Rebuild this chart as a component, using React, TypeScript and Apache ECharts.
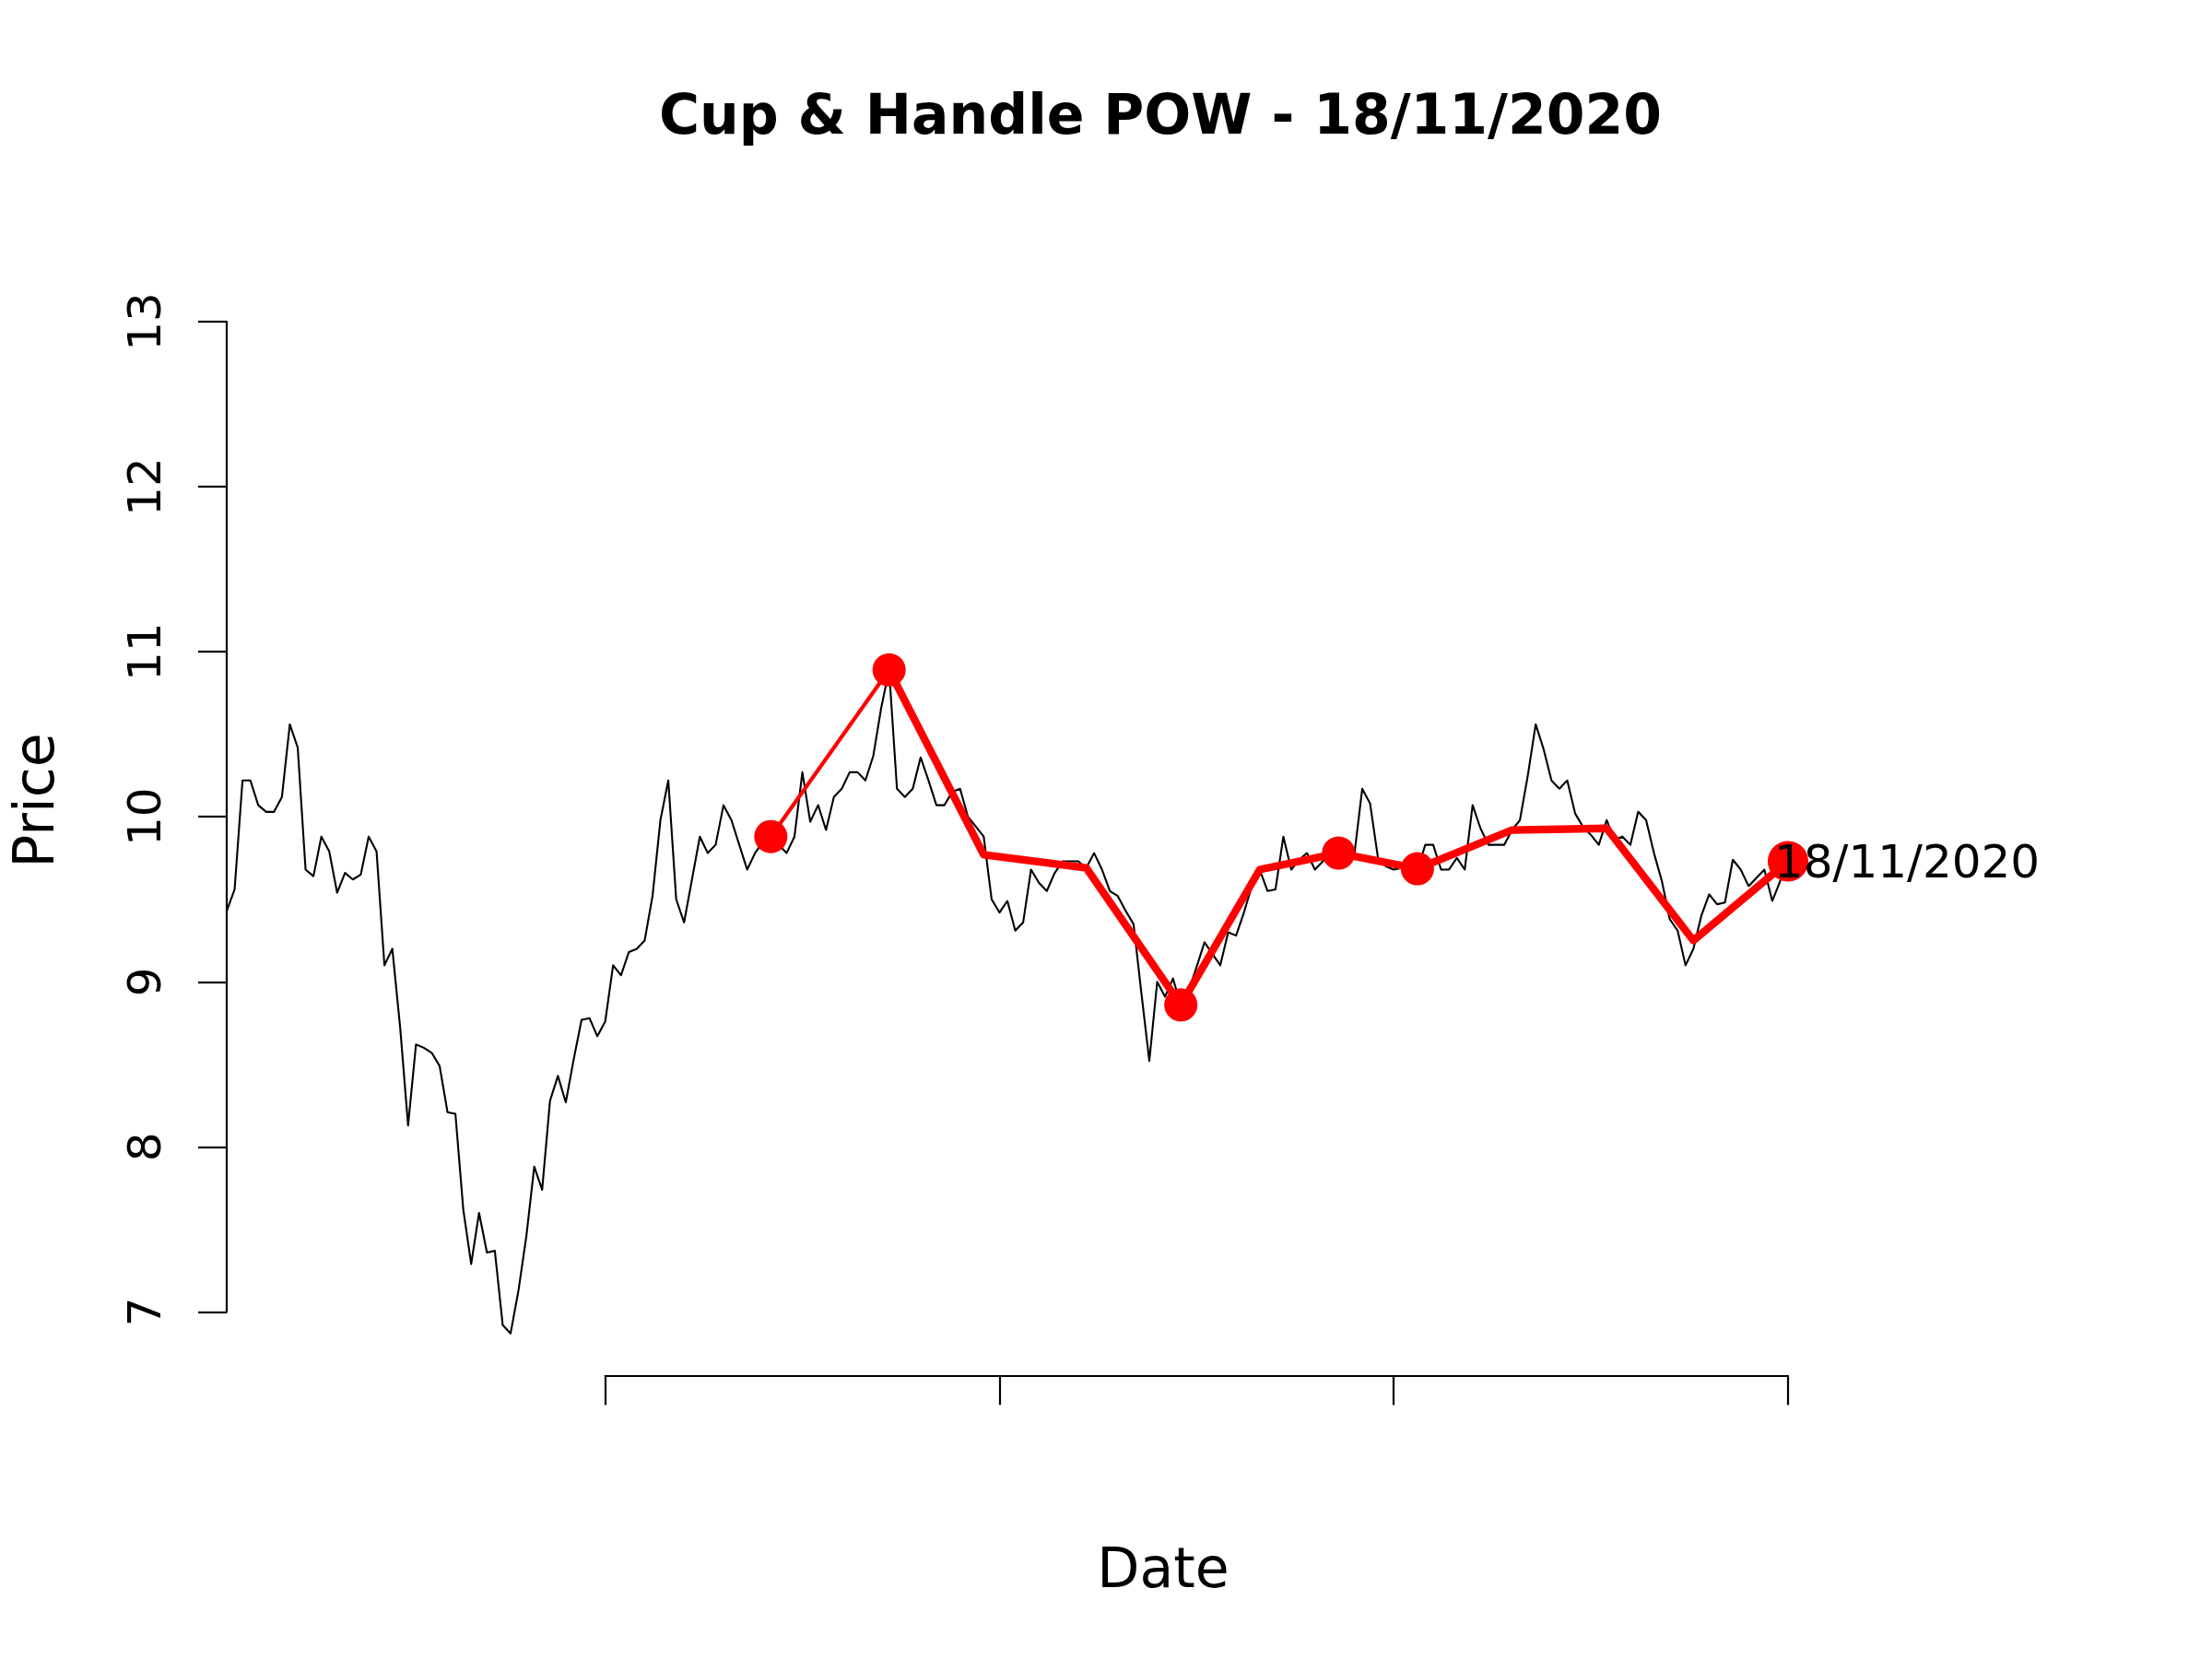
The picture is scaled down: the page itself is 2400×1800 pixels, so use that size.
import React, { useEffect, useRef } from 'react';
import * as echarts from 'echarts';

const titleText = 'Cup & Handle POW - 18/11/2020';
const xAxisTitle = 'Date';
const yAxisTitle = 'Price';
const lastDateLabel = '18/11/2020';

// closing prices, one per trading day (index 0..198)
const price = [
  9.43, 9.56, 10.22, 10.22, 10.07, 10.03, 10.03, 10.12, 10.56, 10.42,
  9.68, 9.64, 9.88, 9.79, 9.54, 9.66, 9.62, 9.65, 9.88, 9.79,
  9.10, 9.20, 8.72, 8.13, 8.62, 8.60, 8.57, 8.49, 8.21, 8.20,
  7.62, 7.29, 7.60, 7.36, 7.37, 6.92, 6.87, 7.13, 7.46, 7.88,
  7.74, 8.28, 8.43, 8.27, 8.53, 8.77, 8.78, 8.67, 8.76, 9.10,
  9.04, 9.18, 9.20, 9.25, 9.52, 9.98, 10.22, 9.50, 9.36, 9.62,
  9.88, 9.78, 9.83, 10.07, 9.98, 9.83, 9.68, 9.78, 9.85, 9.88,
  9.83, 9.78, 9.88, 10.27, 9.97, 10.07, 9.92, 10.12, 10.17, 10.27,
  10.27, 10.22, 10.37, 10.66, 10.89, 10.17, 10.12, 10.17, 10.36, 10.22,
  10.07, 10.07, 10.15, 10.17, 10.0, 9.94, 9.88, 9.50, 9.42, 9.49,
  9.31, 9.36, 9.68, 9.60, 9.55, 9.66, 9.73, 9.73, 9.73, 9.69,
  9.78, 9.68, 9.55, 9.52, 9.43, 9.35, 8.93, 8.52, 9.00, 8.91,
  9.02, 8.86, 8.95, 9.09, 9.24, 9.17, 9.10, 9.30, 9.28, 9.42,
  9.58, 9.68, 9.55, 9.56, 9.88, 9.68, 9.74, 9.78, 9.68, 9.73,
  9.78, 9.78, 9.75, 9.77, 10.17, 10.08, 9.75, 9.70, 9.68, 9.69,
  9.69, 9.68, 9.83, 9.83, 9.68, 9.68, 9.75, 9.68, 10.07, 9.93,
  9.83, 9.83, 9.83, 9.92, 9.98, 10.25, 10.56, 10.41, 10.22, 10.17,
  10.22, 10.02, 9.94, 9.89, 9.83, 9.98, 9.86, 9.88, 9.83, 10.03,
  9.98, 9.78, 9.61, 9.38, 9.31, 9.10, 9.20, 9.40, 9.53, 9.47,
  9.48, 9.74, 9.68, 9.58, 9.63, 9.68, 9.49, 9.61, 9.73,
];

const yMin = 7;
const yMax = 13;
const yStep = 1;

// indices of the (unlabelled) date ticks
const dateTickIdx = [48, 98, 148, 198];

// cup & handle pattern: [index, price]
const patternThin = [
  [69, 9.88],
  [84, 10.89],
];
const patternThick = [
  [84, 10.89],
  [96, 9.77],
  [109, 9.69],
  [121, 8.86],
  [131, 9.68],
  [141, 9.78],
  [151, 9.685],
  [163, 9.92],
  [175, 9.93],
  [186, 9.25],
  [198, 9.73],
];
const patternPoints = [
  [69, 9.88],
  [84, 10.89],
  [121, 8.86],
  [141, 9.78],
  [151, 9.685],
];
const lastPoint = [198, 9.73];

export default function App() {
  const ref = useRef<HTMLDivElement>(null);

  useEffect(() => {
    document.body.style.margin = '0';
    document.body.style.overflow = 'hidden';
    if (!ref.current) return;
    const chart = echarts.init(ref.current, null, { renderer: 'svg' });

    const font = 'DejaVu Sans';
    const plotLeft = 246;
    const plotRight = 1940;
    const yTop = 349;
    const yBottom = 1423.4;
    const n = price.length;
    const step = (plotRight - plotLeft) / (n - 1);
    const tickLeft = plotLeft + dateTickIdx[0] * step;
    const tickRight = plotLeft + dateTickIdx[dateTickIdx.length - 1] * step;
    const xAxisLineY = 1492.4;
    const red = '#ff0000';

    chart.setOption({
      animation: false,
      backgroundColor: '#ffffff',
      title: {
        text: titleText,
        left: 1259,
        top: 94,
        padding: 0,
        textAlign: 'center',
        textStyle: { fontSize: 60, fontWeight: 'bold', fontFamily: font, color: '#000' },
      },
      grid: [
        {
          left: plotLeft,
          top: yTop,
          width: plotRight - plotLeft,
          height: yBottom - yTop,
          containLabel: false,
          outerBoundsMode: 'none',
        },
        {
          left: tickLeft,
          top: xAxisLineY - 50,
          width: tickRight - tickLeft,
          height: 50,
          containLabel: false,
          outerBoundsMode: 'none',
        },
      ],
      xAxis: [
        { gridIndex: 0, type: 'value', min: 0, max: n - 1, show: false },
        {
          gridIndex: 1,
          type: 'value',
          min: 0,
          max: dateTickIdx.length - 1,
          interval: 1,
          axisLine: { show: true, onZero: false, lineStyle: { color: '#000', width: 2.2 } },
          axisTick: { show: true, length: 32, lineStyle: { color: '#000', width: 2.2 } },
          axisLabel: { show: false },
          splitLine: { show: false },
        },
      ],
      yAxis: [
        {
          gridIndex: 0,
          type: 'value',
          min: yMin,
          max: yMax,
          interval: yStep,
          axisLine: { show: true, onZero: false, lineStyle: { color: '#000', width: 2.2 } },
          axisTick: { show: true, length: 31, lineStyle: { color: '#000', width: 2.2 } },
          axisLabel: { show: true, rotate: 90, margin: 64, fontSize: 50, fontFamily: font, color: '#000' },
          splitLine: { show: false },
        },
        { gridIndex: 1, type: 'value', min: 0, max: 1, show: false },
      ],
      graphic: [
        {
          type: 'text',
          x: 1262,
          y: 1701,
          style: { text: xAxisTitle, fontSize: 60, fontFamily: font, fill: '#000', align: 'center', verticalAlign: 'middle' },
        },
        {
          type: 'text',
          x: 37,
          y: 868.6,
          rotation: Math.PI / 2,
          style: { text: yAxisTitle, fontSize: 60, fontFamily: font, fill: '#000', align: 'center', verticalAlign: 'middle' },
        },
      ],
      series: [
        {
          type: 'line',
          xAxisIndex: 0,
          yAxisIndex: 0,
          data: price.map((v, i) => [i, v]),
          symbol: 'none',
          showSymbol: false,
          clip: false,
          z: 2,
          lineStyle: { color: '#000', width: 2.1, join: 'round', cap: 'round' },
        },
        {
          type: 'line',
          xAxisIndex: 0,
          yAxisIndex: 0,
          data: patternThin,
          symbol: 'none',
          clip: false,
          z: 3,
          lineStyle: { color: red, width: 4.2, join: 'round', cap: 'round' },
        },
        {
          type: 'line',
          xAxisIndex: 0,
          yAxisIndex: 0,
          data: patternThick,
          symbol: 'none',
          clip: false,
          z: 3,
          lineStyle: { color: red, width: 8.3, join: 'round', cap: 'round' },
        },
        {
          type: 'scatter',
          xAxisIndex: 0,
          yAxisIndex: 0,
          data: patternPoints,
          symbol: 'circle',
          symbolSize: 36,
          clip: false,
          z: 4,
          itemStyle: { color: red, opacity: 1 },
        },
        {
          type: 'scatter',
          xAxisIndex: 0,
          yAxisIndex: 0,
          data: [
            {
              value: lastPoint,
              label: {
                show: true,
                formatter: lastDateLabel,
                position: 'inside',
                align: 'left',
                verticalAlign: 'middle',
                offset: [-15, 0],
                fontSize: 50,
                fontFamily: font,
                color: '#000',
              },
            },
          ],
          symbol: 'circle',
          symbolSize: 44,
          clip: false,
          z: 5,
          itemStyle: { color: red, opacity: 1 },
        },
      ],
    });

    return () => {
      chart.dispose();
    };
  }, []);

  return <div ref={ref} style={{ width: 2400, height: 1800 }} />;
}
